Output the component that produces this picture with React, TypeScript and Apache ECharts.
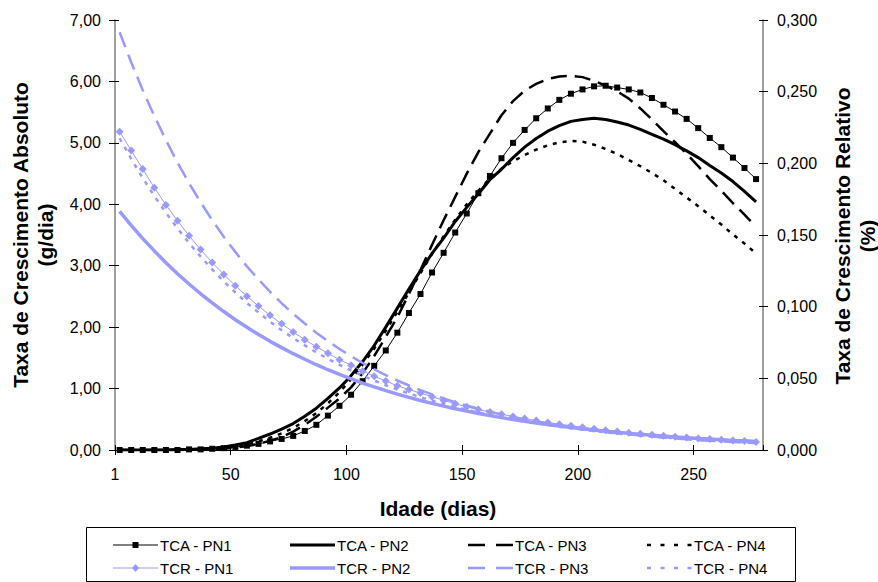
import React, { useEffect, useRef } from "react";
import * as echarts from "echarts";

// x grid: age in days (one point every 5 days)
const days: number[] = Array.from({ length: 56 }, (_, i) => 2 + 5 * i);

const xTicks = [0, 50, 100, 150, 200, 250];

// TCA – absolute growth rate (g/dia), left axis
const tcaPN1 = [0.0, 0.0, 0.0, 0.0, 0.0, 0.0, 0.01, 0.01, 0.02, 0.03, 0.05, 0.07, 0.1, 0.14, 0.18, 0.23, 0.31, 0.41, 0.56, 0.72, 0.9, 1.12, 1.37, 1.62, 1.91, 2.23, 2.54, 2.89, 3.21, 3.54, 3.85, 4.18, 4.46, 4.75, 5.0, 5.21, 5.4, 5.56, 5.7, 5.8, 5.87, 5.92, 5.93, 5.9, 5.87, 5.82, 5.73, 5.62, 5.51, 5.39, 5.24, 5.08, 4.93, 4.76, 4.59, 4.41];
const tcaPN2 = [0.0, 0.0, 0.0, 0.0, 0.0, 0.01, 0.01, 0.02, 0.03, 0.05, 0.08, 0.12, 0.19, 0.26, 0.34, 0.43, 0.55, 0.68, 0.84, 1.01, 1.21, 1.44, 1.7, 2.0, 2.31, 2.62, 2.92, 3.2, 3.45, 3.72, 3.95, 4.17, 4.4, 4.57, 4.76, 4.93, 5.07, 5.19, 5.28, 5.35, 5.38, 5.4, 5.38, 5.34, 5.29, 5.22, 5.14, 5.06, 4.97, 4.87, 4.76, 4.63, 4.51, 4.37, 4.21, 4.04];
const tcaPN3 = [0.0, 0.0, 0.0, 0.0, 0.0, 0.0, 0.0, 0.01, 0.01, 0.02, 0.04, 0.06, 0.1, 0.15, 0.21, 0.3, 0.41, 0.54, 0.69, 0.84, 1.02, 1.25, 1.53, 1.84, 2.16, 2.54, 2.93, 3.34, 3.74, 4.12, 4.5, 4.85, 5.15, 5.45, 5.68, 5.85, 5.96, 6.04, 6.08, 6.09, 6.07, 6.01, 5.93, 5.84, 5.72, 5.56, 5.38, 5.19, 5.01, 4.82, 4.62, 4.41, 4.22, 4.02, 3.83, 3.63];
const tcaPN4 = [0.0, 0.0, 0.0, 0.0, 0.0, 0.0, 0.0, 0.01, 0.02, 0.04, 0.06, 0.09, 0.14, 0.2, 0.27, 0.36, 0.47, 0.6, 0.76, 0.94, 1.15, 1.39, 1.65, 1.94, 2.25, 2.56, 2.88, 3.19, 3.48, 3.75, 4.0, 4.22, 4.42, 4.58, 4.7, 4.8, 4.89, 4.96, 5.01, 5.03, 5.02, 4.97, 4.9, 4.82, 4.72, 4.62, 4.51, 4.39, 4.25, 4.11, 3.97, 3.82, 3.67, 3.51, 3.36, 3.2];

// TCR – relative growth rate (%), right axis
const tcrPN1 = [0.2221, 0.209, 0.196, 0.183, 0.171, 0.16, 0.1495, 0.1398, 0.1308, 0.1225, 0.1146, 0.1073, 0.1004, 0.094, 0.088, 0.0824, 0.0769, 0.0721, 0.0675, 0.063, 0.0592, 0.055, 0.0515, 0.0481, 0.0448, 0.0422, 0.0397, 0.0372, 0.0346, 0.0323, 0.0301, 0.0282, 0.0265, 0.025, 0.0234, 0.0219, 0.0205, 0.0192, 0.018, 0.017, 0.0158, 0.0148, 0.0138, 0.0129, 0.0121, 0.0113, 0.0106, 0.0099, 0.0093, 0.0087, 0.0081, 0.0076, 0.0071, 0.0066, 0.0062, 0.0056];
const tcrPN2 = [0.1665, 0.1567, 0.1475, 0.1389, 0.1307, 0.123, 0.1158, 0.109, 0.1026, 0.0966, 0.0909, 0.0856, 0.0806, 0.0758, 0.0714, 0.0672, 0.0633, 0.0595, 0.056, 0.0528, 0.0497, 0.0467, 0.044, 0.0414, 0.039, 0.0367, 0.0345, 0.0325, 0.0306, 0.0288, 0.0271, 0.0255, 0.024, 0.0226, 0.0213, 0.02, 0.0189, 0.0178, 0.0167, 0.0157, 0.0148, 0.0139, 0.0131, 0.0124, 0.0116, 0.011, 0.0103, 0.0097, 0.0091, 0.0086, 0.0081, 0.0076, 0.0072, 0.0067, 0.0064, 0.006];
const tcrPN3 = [0.2915, 0.2705, 0.251, 0.233, 0.2162, 0.2006, 0.1862, 0.1728, 0.1603, 0.1488, 0.1381, 0.1281, 0.1189, 0.1104, 0.1024, 0.095, 0.0882, 0.0818, 0.076, 0.0705, 0.0654, 0.0607, 0.0563, 0.0523, 0.0485, 0.045, 0.0418, 0.0388, 0.036, 0.0334, 0.031, 0.0288, 0.0267, 0.0248, 0.023, 0.0213, 0.0198, 0.0184, 0.017, 0.0158, 0.0147, 0.0136, 0.0126, 0.0117, 0.0109, 0.0101, 0.0094, 0.0087, 0.0081, 0.0075, 0.0069, 0.0064, 0.006, 0.0056, 0.0052, 0.0048];
const tcrPN4 = [0.2175, 0.2031, 0.1897, 0.1772, 0.1655, 0.1546, 0.1444, 0.1349, 0.126, 0.1176, 0.1099, 0.1026, 0.0959, 0.0895, 0.0836, 0.0781, 0.073, 0.0681, 0.0636, 0.0594, 0.0555, 0.0519, 0.0484, 0.0452, 0.0422, 0.0395, 0.0369, 0.0344, 0.0321, 0.03, 0.028, 0.0262, 0.0245, 0.0228, 0.0213, 0.0199, 0.0186, 0.0174, 0.0162, 0.0152, 0.0142, 0.0132, 0.0124, 0.0115, 0.0108, 0.0101, 0.0094, 0.0088, 0.0082, 0.0077, 0.0072, 0.0067, 0.0062, 0.0058, 0.0054, 0.0051];

const legendNames = [
  "TCA - PN1", "TCA - PN2", "TCA - PN3", "TCA - PN4",
  "TCR - PN1", "TCR - PN2", "TCR - PN3", "TCR - PN4",
];

const FONT = '"Liberation Sans", Arial, sans-serif';
const BLACK = "#000000";
const LAV = "#9999FF";

type Sty = { color: string; width: number; dash: number[] | null; marker: string; size: number };
const DASH = [16, 8];
const DOT = [4, 6];
const styles: Sty[] = [
  { color: BLACK, width: 1, dash: null, marker: "rect", size: 6 },
  { color: BLACK, width: 3, dash: null, marker: "none", size: 0 },
  { color: BLACK, width: 2.5, dash: DASH, marker: "none", size: 0 },
  { color: BLACK, width: 2.5, dash: DOT, marker: "none", size: 0 },
  { color: LAV, width: 1, dash: null, marker: "diamond", size: 8 },
  { color: LAV, width: 3.5, dash: null, marker: "none", size: 0 },
  { color: LAV, width: 2.5, dash: DASH, marker: "none", size: 0 },
  { color: LAV, width: 2.5, dash: DOT, marker: "none", size: 0 },
];

export default function App() {
  const ref = useRef<HTMLDivElement>(null);

  useEffect(() => {
    document.body.style.margin = "0";
    const chart = echarts.init(ref.current as HTMLDivElement, null, { renderer: "svg" });

    const seriesData = [tcaPN1, tcaPN2, tcaPN3, tcaPN4, tcrPN1, tcrPN2, tcrPN3, tcrPN4];
    const series = seriesData.map((arr, i) => {
      const s = styles[i];
      return {
        name: legendNames[i],
        type: "line",
        xAxisIndex: 0,
        yAxisIndex: i < 4 ? 0 : 1,
        data: days.map((d, j) => [d, arr[j]]),
        smooth: false,
        symbol: s.marker,
        symbolSize: s.size,
        showSymbol: s.marker !== "none",
        itemStyle: { color: s.color, borderWidth: 0 },
        lineStyle: { color: s.color, width: s.width, type: s.dash ? s.dash : "solid", cap: "butt" },
        emphasis: { disabled: true },
        z: i < 4 ? 2 : 3,
      };
    });

    const tickCommon = { lineStyle: { color: BLACK, width: 1 } };
    const fmtL = (v: number) => v.toFixed(2).replace(".", ",");
    const fmtR = (v: number) => v.toFixed(3).replace(".", ",");

    // legend drawn by hand (2 rows x 4 columns)
    const colX = [113, 290, 468, 647];
    const rowY = [545, 568];
    const legendEls: any[] = [];
    legendNames.forEach((name, i) => {
      const s = styles[i];
      const x0 = colX[i % 4];
      const y = rowY[Math.floor(i / 4)];
      const isDash = s.dash === DASH;
      const isDot = s.dash === DOT;
      legendEls.push({
        type: "line",
        silent: true,
        shape: { x1: x0, y1: y, x2: x0 + 45, y2: y },
        style: {
          stroke: s.color,
          lineWidth: s.width,
          lineDash: isDash ? [17, 11] : isDot ? [4, 9.5] : null,
          lineCap: "butt",
        },
      });
      if (s.marker === "rect") {
        legendEls.push({
          type: "rect",
          silent: true,
          shape: { x: x0 + 19.5, y: y - 3, width: 6, height: 6 },
          style: { fill: s.color },
        });
      } else if (s.marker === "diamond") {
        const cx = x0 + 22.5;
        legendEls.push({
          type: "polygon",
          silent: true,
          shape: { points: [[cx, y - 4], [cx + 3.5, y], [cx, y + 4], [cx - 3.5, y]] },
          style: { fill: s.color },
        });
      }
      legendEls.push({
        type: "text",
        silent: true,
        x: x0 + 47,
        y: y,
        style: {
          text: name,
          fontSize: 15,
          fontFamily: FONT,
          fill: BLACK,
          textAlign: "left",
          textVerticalAlign: "middle",
        },
      });
    });

    const titleStyle = (text: string, align: string = "center") => ({
      text,
      fontSize: 21,
      fontWeight: "bold",
      fontFamily: FONT,
      fill: BLACK,
      textAlign: align,
      textVerticalAlign: "middle",
    });

    const option: any = {
      animation: false,
      backgroundColor: "#ffffff",
      grid: { left: 115, right: 115, top: 20, bottom: 132, containLabel: false },
      xAxis: [
        {
          type: "value",
          min: 0,
          max: 280,
          interval: 50,
          position: "bottom",
          axisLine: { show: true, onZero: false, lineStyle: { color: BLACK, width: 1 } },
          axisTick: { show: true, inside: false, length: 5, ...tickCommon },
          axisLabel: {
            show: true,
            showMaxLabel: false,
            margin: 16,
            fontSize: 16,
            fontFamily: FONT,
            color: BLACK,
            formatter: (v: number) => (v === 0 ? "1" : xTicks.includes(v) ? String(v) : ""),
          },
          splitLine: { show: false },
        },
        {
          type: "value",
          min: 0,
          max: 280,
          interval: 50,
          position: "bottom",
          axisLine: { show: false, onZero: false },
          axisTick: { show: true, inside: true, length: 5, ...tickCommon },
          axisLabel: { show: false },
          splitLine: { show: false },
        },
      ],
      yAxis: [
        {
          type: "value",
          min: 0,
          max: 7,
          interval: 1,
          position: "left",
          axisLine: { show: true, onZero: false, lineStyle: { color: "#808080", width: 1.5 } },
          axisTick: { show: true, inside: false, length: 6, ...tickCommon },
          axisLabel: { margin: 14, fontSize: 16, fontFamily: FONT, color: BLACK, formatter: fmtL },
          splitLine: { show: false },
        },
        {
          type: "value",
          min: 0,
          max: 0.3,
          interval: 0.05,
          position: "right",
          axisLine: { show: true, onZero: false, lineStyle: { color: "#808080", width: 1.5 } },
          axisTick: { show: true, inside: false, length: 5, ...tickCommon },
          axisLabel: { margin: 14, fontSize: 16, fontFamily: FONT, color: BLACK, formatter: fmtR },
          splitLine: { show: false },
        },
        {
          type: "value",
          min: 0,
          max: 7,
          interval: 1,
          position: "left",
          axisLine: { show: false, onZero: false },
          axisTick: { show: true, inside: true, length: 4, ...tickCommon },
          axisLabel: { show: false },
          splitLine: { show: false },
        },
        {
          type: "value",
          min: 0,
          max: 0.3,
          interval: 0.05,
          position: "right",
          axisLine: { show: false, onZero: false },
          axisTick: { show: true, inside: true, length: 4, ...tickCommon },
          axisLabel: { show: false },
          splitLine: { show: false },
        },
      ],
      graphic: [
        {
          type: "rect",
          silent: true,
          shape: { x: 86.5, y: 527.5, width: 709, height: 54 },
          style: { fill: "none", stroke: BLACK, lineWidth: 1 },
        },
        ...legendEls,
        { type: "text", silent: true, x: 20, y: 235, rotation: Math.PI / 2, style: titleStyle("Taxa de Crescimento Absoluto") },
        { type: "text", silent: true, x: 45, y: 235, rotation: Math.PI / 2, style: titleStyle("(g/dia)") },
        { type: "text", silent: true, x: 842, y: 236, rotation: Math.PI / 2, style: titleStyle("Taxa de Crescimento Relativo") },
        { type: "text", silent: true, x: 867, y: 236, rotation: Math.PI / 2, style: titleStyle("(%)") },
        { type: "text", silent: true, x: 438, y: 508, style: titleStyle("Idade (dias)") },
      ],
      series,
    };

    chart.setOption(option);
    return () => chart.dispose();
  }, []);

  return <div ref={ref} style={{ width: 878, height: 582 }} />;
}
